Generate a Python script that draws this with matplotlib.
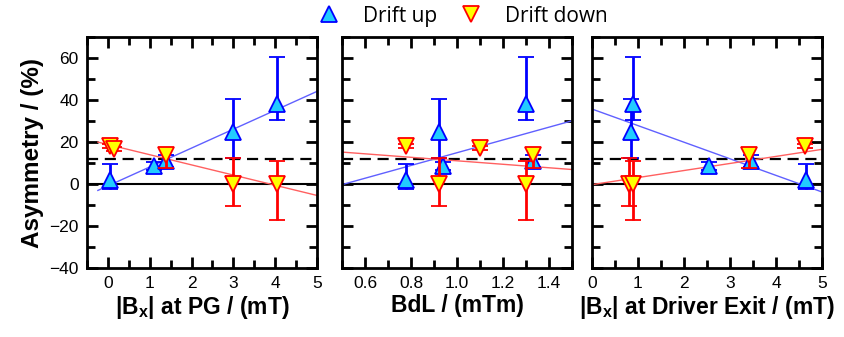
import matplotlib
matplotlib.use("Agg")
import matplotlib.pyplot as plt
import numpy as np
from matplotlib.lines import Line2D
from matplotlib.ticker import MultipleLocator

plt.rcParams['font.family'] = ['Liberation Sans', 'DejaVu Sans']
plt.rcParams['mathtext.fontset'] = 'custom'
plt.rcParams['mathtext.rm'] = 'Liberation Sans'
plt.rcParams['mathtext.bf'] = 'Liberation Sans:bold'

# ---- data ----
xlabels = [r"|B$_\mathbf{x}$| at PG / (mT)", "BdL / (mTm)", r"|B$_\mathbf{x}$| at Driver Exit / (mT)"]

up_x1 = [0.05, 1.10, 1.40, 3.00, 4.05]
up_y1 = [2, 8.5, 11, 25, 38]
up_lo1 = [-2.4, 6.5, 8, 12.5, 30.4]
up_hi1 = [9.3, 10.5, 14, 40.5, 60.5]
down_x1 = [0.05, 0.15, 1.40, 3.00, 4.05]
down_y1 = [18, 16.5, 14, 0, 0]
down_lo1 = [17, 15.5, 7.7, -10.7, -17]
down_hi1 = [19, 17.5, 17.3, 12.5, 11]

up_x2 = [0.78, 0.92, 0.94, 1.30, 1.33]
up_y2 = [2, 25, 8.5, 38, 11]
up_lo2 = [-2.4, 12.5, 6.5, 30.4, 8]
up_hi2 = [9.3, 40.5, 10.5, 60.5, 14]
down_x2 = [0.78, 0.92, 1.10, 1.30, 1.33]
down_y2 = [18, 0, 17, 0, 14]
down_lo2 = [17, -10.7, 16, -17, 7.7]
down_hi2 = [19, 12.5, 18, 11, 17.3]

up_x3 = [0.84, 0.90, 2.54, 3.46, 4.66]
up_y3 = [25, 38, 8.5, 11, 2]
up_lo3 = [12.5, 30.4, 6.5, 8, -2.4]
up_hi3 = [40.5, 60.5, 10.5, 14, 9.3]
down_x3 = [0.80, 0.90, 3.42, 4.62]
down_y3 = [0, 0, 14, 18]
down_lo3 = [-10.7, -17, 7.7, 17]
down_hi3 = [12.5, 11, 17.3, 19]

# linear fits: (slope, intercept, x_start, x_end)
fit_up = [(9.0, -0.9, -0.24, 5.0), (30.4, -15.5, 0.51, 1.5), (-7.9, 35.7, 0.0, 5.0)]
fit_down = [(-4.85, 18.8, -0.24, 5.0), (-8.3, 19.35, 0.5, 1.5), (3.36, -0.3, 0.0, 5.0)]

mean_level = 12
xlims = [(-0.5, 5), (0.5, 1.5), (0, 5)]
xmajor = [1, 0.2, 1]
xminor = [0.5, 0.1, 0.5]

ups = [(up_x1, up_y1, up_lo1, up_hi1), (up_x2, up_y2, up_lo2, up_hi2), (up_x3, up_y3, up_lo3, up_hi3)]
downs = [(down_x1, down_y1, down_lo1, down_hi1), (down_x2, down_y2, down_lo2, down_hi2),
         (down_x3, down_y3, down_lo3, down_hi3)]

fig = plt.figure(figsize=(8.44, 3.37), dpi=100)
W, H = 844, 337
lefts = [87, 342, 592]
axw = 230
bottom = 268
top = 37

BLUE = '#0000ff'
CYAN = '#22ccff'
RED = '#ff0000'
YEL = '#ffff00'
MS = 11.5

for i in range(3):
    ax = fig.add_axes([lefts[i] / W, (H - bottom) / H, axw / W, (bottom - top) / H])
    ax.set_xlim(*xlims[i])
    ax.set_ylim(-40, 70)
    ax.axhline(0, color='black', lw=1.5, zorder=1)
    ax.axhline(mean_level, color='black', lw=1.6, ls=(0, (5, 3)), zorder=1)
    for (s, b, x0, x1), c in zip([fit_up[i], fit_down[i]], ['#6060ff', '#ff6060']):
        xs = np.array([x0, x1])
        ax.plot(xs, s * xs + b, color=c, lw=1.0, zorder=2)
    x, y, lo, hi = [np.array(a) for a in ups[i]]
    ax.errorbar(x, y, yerr=[y - lo, hi - y], fmt='^', ms=MS, mfc=CYAN, mec=BLUE, mew=1.3,
                ecolor=BLUE, elinewidth=2, capsize=6, capthick=2, zorder=3)
    x, y, lo, hi = [np.array(a) for a in downs[i]]
    ax.errorbar(x, y, yerr=[y - lo, hi - y], fmt='v', ms=MS, mfc=YEL, mec=RED, mew=1.3,
                ecolor=RED, elinewidth=2, capsize=6, capthick=2, zorder=4)
    ax.xaxis.set_major_locator(MultipleLocator(xmajor[i]))
    ax.xaxis.set_minor_locator(MultipleLocator(xminor[i]))
    ax.yaxis.set_major_locator(MultipleLocator(20))
    ax.yaxis.set_minor_locator(MultipleLocator(10))
    ax.tick_params(which='both', direction='in', top=True, right=True, width=2, labelsize=12.5, pad=6)
    ax.tick_params(which='major', length=8)
    ax.tick_params(which='minor', length=6)
    for sp in ax.spines.values():
        sp.set_linewidth(2)
    if i == 1:
        ax.xaxis.set_major_formatter(matplotlib.ticker.FormatStrFormatter('%.1f'))
        ax.set_xticks([0.6, 0.8, 1.0, 1.2, 1.4])
    if i > 0:
        ax.set_yticklabels([])
    else:
        ax.set_ylabel('Asymmetry / (%)', fontsize=17.5, fontweight='bold', labelpad=4)
    ax.set_xlabel(xlabels[i], fontsize=16.5, fontweight='bold', labelpad=2)

handles = [Line2D([], [], ls='none', marker='^', ms=MS, mfc=CYAN, mec=BLUE, mew=1.3),
           Line2D([], [], ls='none', marker='v', ms=MS, mfc=YEL, mec=RED, mew=1.3)]
fig.legend(handles, ['Drift up', 'Drift down'], loc='center', bbox_to_anchor=(0.5425, 0.952),
           ncol=2, frameon=False, prop={'family': ['Open Sans', 'DejaVu Sans'], 'size': 15},
           handletextpad=0.65, columnspacing=0.6)

fig.savefig('out.png', dpi=100)
